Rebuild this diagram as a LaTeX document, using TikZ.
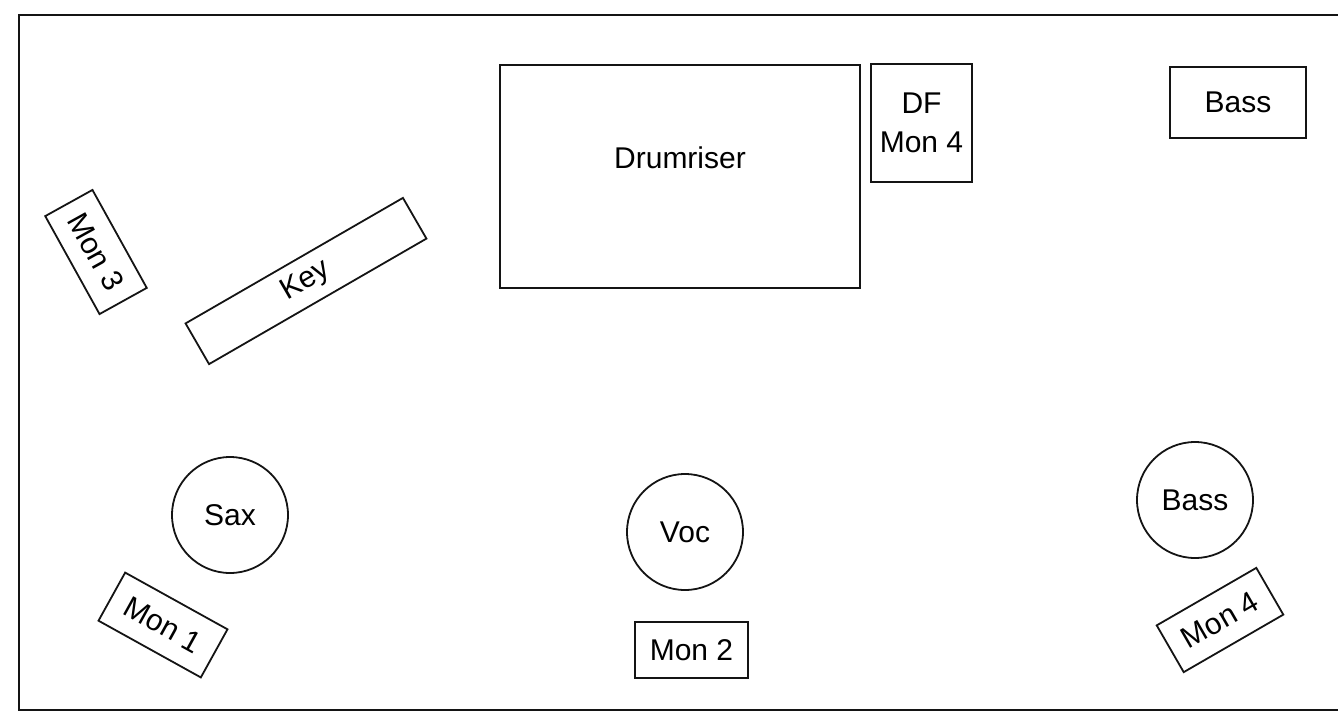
\documentclass[tikz,border=0pt]{standalone}
\usepackage{fontspec}
\setmainfont{Liberation Sans}
\usepackage{tikz}
\usetikzlibrary{positioning}
\definecolor{stageline}{RGB}{20,20,20}
\tikzset{
  stagebox/.style={rectangle,draw=stageline,line width=1.8pt,inner sep=0pt,
    align=center,font=\fontsize{30}{39}\selectfont},
  playercircle/.style={circle,draw=stageline,line width=1.8pt,inner sep=0pt,
    minimum size=116pt,font=\fontsize{30}{39}\selectfont},
  frameline/.style={line width=2.8pt,color=stageline}
}
\begin{document}
\begin{tikzpicture}[x=1pt,y=-1pt]
  \useasboundingbox (0,0) rectangle (1338,713);
  % stage outline
  \draw[frameline] (1338,15) -- (19,15) -- (19,710) -- (1338,710);

  % back line
  \node[stagebox,minimum width=360pt,minimum height=223pt,
        label={[yshift=19pt,font=\fontsize{30}{39}\selectfont]center:Drumriser}]
        (drums) at (680,176.5) {};
  \node[stagebox,minimum width=101pt,minimum height=118pt] (dfmon) at (921.5,123) {DF\\Mon 4};
  \node[stagebox,minimum width=136pt,minimum height=71pt] (bassamp) at (1238,102.5) {Bass};

  % keys
  \node[stagebox,minimum width=112pt,minimum height=54pt,rotate=-61] (mon3) at (96,252) {Mon 3};
  \node[stagebox,minimum width=251pt,minimum height=47pt,rotate=30] (key) at (306,281) {Key};

  % front line
  \node[playercircle] (sax) at (230,515) {Sax};
  \node[playercircle] (voc) at (685,532) {Voc};
  \node[playercircle] (bass) at (1195,500) {Bass};

  \node[stagebox,minimum width=117pt,minimum height=55pt,rotate=-29] (mon1) at (163,625) {Mon 1};
  \node[stagebox,minimum width=113pt,minimum height=56pt] (mon2) at (691.5,650) {Mon 2};
  \node[stagebox,minimum width=115pt,minimum height=54pt,rotate=30] (mon4) at (1220,620) {Mon 4};
\end{tikzpicture}
\end{document}
